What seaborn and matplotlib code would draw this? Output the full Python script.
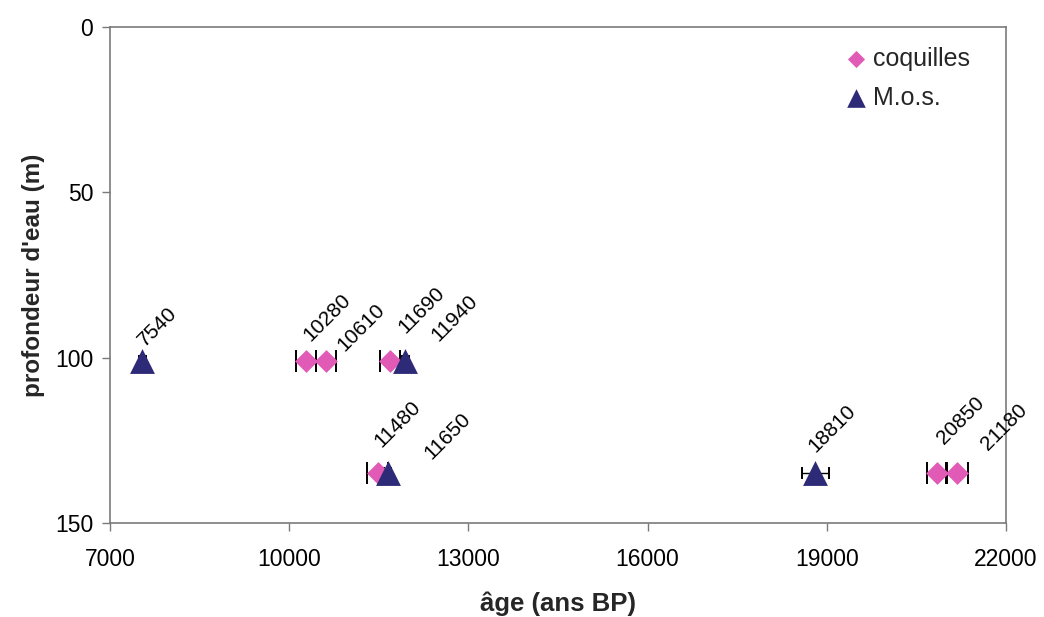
import matplotlib
matplotlib.use("Agg")
import matplotlib.pyplot as plt
import seaborn as sns
import pandas as pd

# Shell dates (coquilles)
coq_age = [10280, 10610, 11690, 11480, 20850, 21180]
coq_depth = [101, 101, 101, 135, 135, 135]
coq_err = [170, 170, 170, 170, 170, 190]

# Sedimentary organic matter dates (M.o.s.)
mos_age = [7540, 11940, 11650, 18810]
mos_depth = [101, 101, 135, 135]
mos_err = [60, 60, 60, 230]

x_ticks = [7000, 10000, 13000, 16000, 19000, 22000]
y_ticks = [0, 50, 100, 150]

# label offsets (pixels, from the point to the text baseline start)
coq_off = [(4, 19), (19, 9), (15, 27), (4, 25), (7, 28), (31, 22)]
mos_off = [(3, 14), (33, 19), (44, 13), (0, 20)]

sns.set_theme(style="white")
plt.rcParams["font.family"] = ["Liberation Sans", "DejaVu Sans"]

PINK = "#E05AB6"
NAVY = "#2D2A78"

fig = plt.figure(figsize=(10.44, 6.17), dpi=100)
ax = fig.add_axes([0.1054, 0.1524, 0.8582, 0.8038])

coq = pd.DataFrame({"age": coq_age, "depth": coq_depth})
mos = pd.DataFrame({"age": mos_age, "depth": mos_depth})

# error bars sit beneath the markers; only the caps show
ax.errorbar(coq_age, coq_depth, xerr=coq_err, fmt="none", ecolor="black",
            elinewidth=1, capsize=8, capthick=1.4, zorder=2)
ax.errorbar(mos_age, mos_depth, xerr=mos_err, fmt="none", ecolor="black",
            elinewidth=1, capsize=4, capthick=1.4, zorder=2)

sns.scatterplot(data=coq, x="age", y="depth", marker="D", s=135, color=PINK,
                edgecolor=PINK, linewidth=0, ax=ax, label="coquilles", zorder=3)
sns.scatterplot(data=mos, x="age", y="depth", marker="^", s=320, color=NAVY,
                edgecolor=NAVY, linewidth=0, ax=ax, label="M.o.s.", zorder=3)

for a, d, off in zip(coq_age + mos_age, coq_depth + mos_depth, coq_off + mos_off):
    ax.annotate(str(a), (a, d), xytext=off, textcoords="offset pixels",
                rotation=45, rotation_mode="anchor", ha="left", va="baseline",
                fontsize=15, color="black", zorder=5)

ax.set_xlim(7000, 22000)
ax.set_ylim(150, 0)
ax.set_xticks(x_ticks)
ax.set_yticks(y_ticks)
ax.tick_params(axis="both", labelsize=16.5, labelcolor="black", length=6,
               direction="out", bottom=True, left=True, width=1, color="#7a7a7a")
ax.tick_params(axis="x", pad=12)
ax.tick_params(axis="y", pad=6)

for sp in ax.spines.values():
    sp.set_color("#7a7a7a")
    sp.set_linewidth(1.2)

ax.set_xlabel("âge (ans BP)", fontsize=18.5, fontweight="bold", labelpad=14.5)
ax.set_ylabel("profondeur d'eau (m)", fontsize=17.5, fontweight="bold", labelpad=7)

leg = ax.legend(loc="upper left", bbox_to_anchor=(0.807, 0.98), frameon=False,
                fontsize=18, handletextpad=0.2, borderaxespad=0.0,
                labelspacing=0.6, handlelength=1.0, markerscale=0.75)

fig.savefig("out.png", dpi=100, facecolor="white")
